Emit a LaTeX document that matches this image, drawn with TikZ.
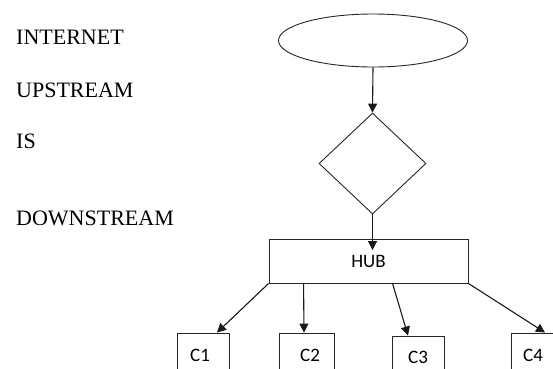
\documentclass[tikz,border=0pt]{standalone}
\usepackage{fontspec}
\setmainfont{Liberation Serif}
\newfontfamily\boxfont{Carlito}
\usetikzlibrary{shapes.geometric,arrows.meta,calc}
\begin{document}
\begin{tikzpicture}[x=1bp,y=-1bp,
  outline/.style={draw=black!85,line width=0.9bp},
  flow/.style={draw=black!90,line width=1.1bp,-{Triangle[length=9bp,width=9bp]}},
  lefttext/.style={anchor=base west,inner sep=0pt,font=\fontsize{22bp}{24bp}\selectfont},
  pcfont/.style={font=\boxfont\fontsize{19bp}{21bp}\selectfont},
  pcbox/.style={outline,rectangle,inner sep=0pt,pcfont}]
\useasboundingbox (0,0) rectangle (553,368);
\clip (0,0) rectangle (553,368);
\fill[white] (0,0) rectangle (553,368);

% labels down the left side
\node[lefttext] (tInternet) at (16,44.5) {INTERNET};
\node[lefttext] (tUp) at (16,97) {UPSTREAM};
\node[lefttext] (tIs) at (16,148) {IS};
\node[lefttext] (tDown) at (16,225) {DOWNSTREAM};

% flow chart
\node[outline,ellipse,minimum width=189bp,minimum height=53bp,inner sep=0pt] (ell) at (373,40.5) {};
\node[outline,diamond,minimum width=107bp,minimum height=101bp,inner sep=0pt] (dia) at (372.5,163.5) {};
\node[pcbox,minimum width=199bp,minimum height=44bp] (hub) at (368.5,261) {HUB};
\coordinate (hubin) at (372.5,250);

\node[pcbox,minimum width=52bp,minimum height=50bp] (c1) at (203,358) {};
\node[pcbox,minimum width=55bp,minimum height=50bp] (c2) at (306.5,358) {};
\node[pcbox,minimum width=52bp,minimum height=50bp] (c3) at (418,361) {};
\node[pcbox,minimum width=46bp,minimum height=50bp] (c4) at (534,358) {};
\node[pcfont] (l1) at (200,355) {C1};
\node[pcfont] (l2) at (310,355) {C2};
\node[pcfont] (l3) at (418,357) {C3};
\node[pcfont] (l4) at (533,355) {C4};

\draw[flow] (ell.south) -- (dia.north);
\draw[flow] (dia.south) -- (hubin);
\draw[flow] (hub.south west) -- ([xshift=14bp]c1.north);
\draw[flow] ([xshift=35bp]hub.south west) -- ([xshift=-2.5bp]c2.north);
\draw[flow] ([xshift=124bp]hub.south west) -- ([xshift=-10bp]c3.north);
\draw[flow] (hub.south east) -- ([xshift=11bp]c4.north);
\end{tikzpicture}
\end{document}
